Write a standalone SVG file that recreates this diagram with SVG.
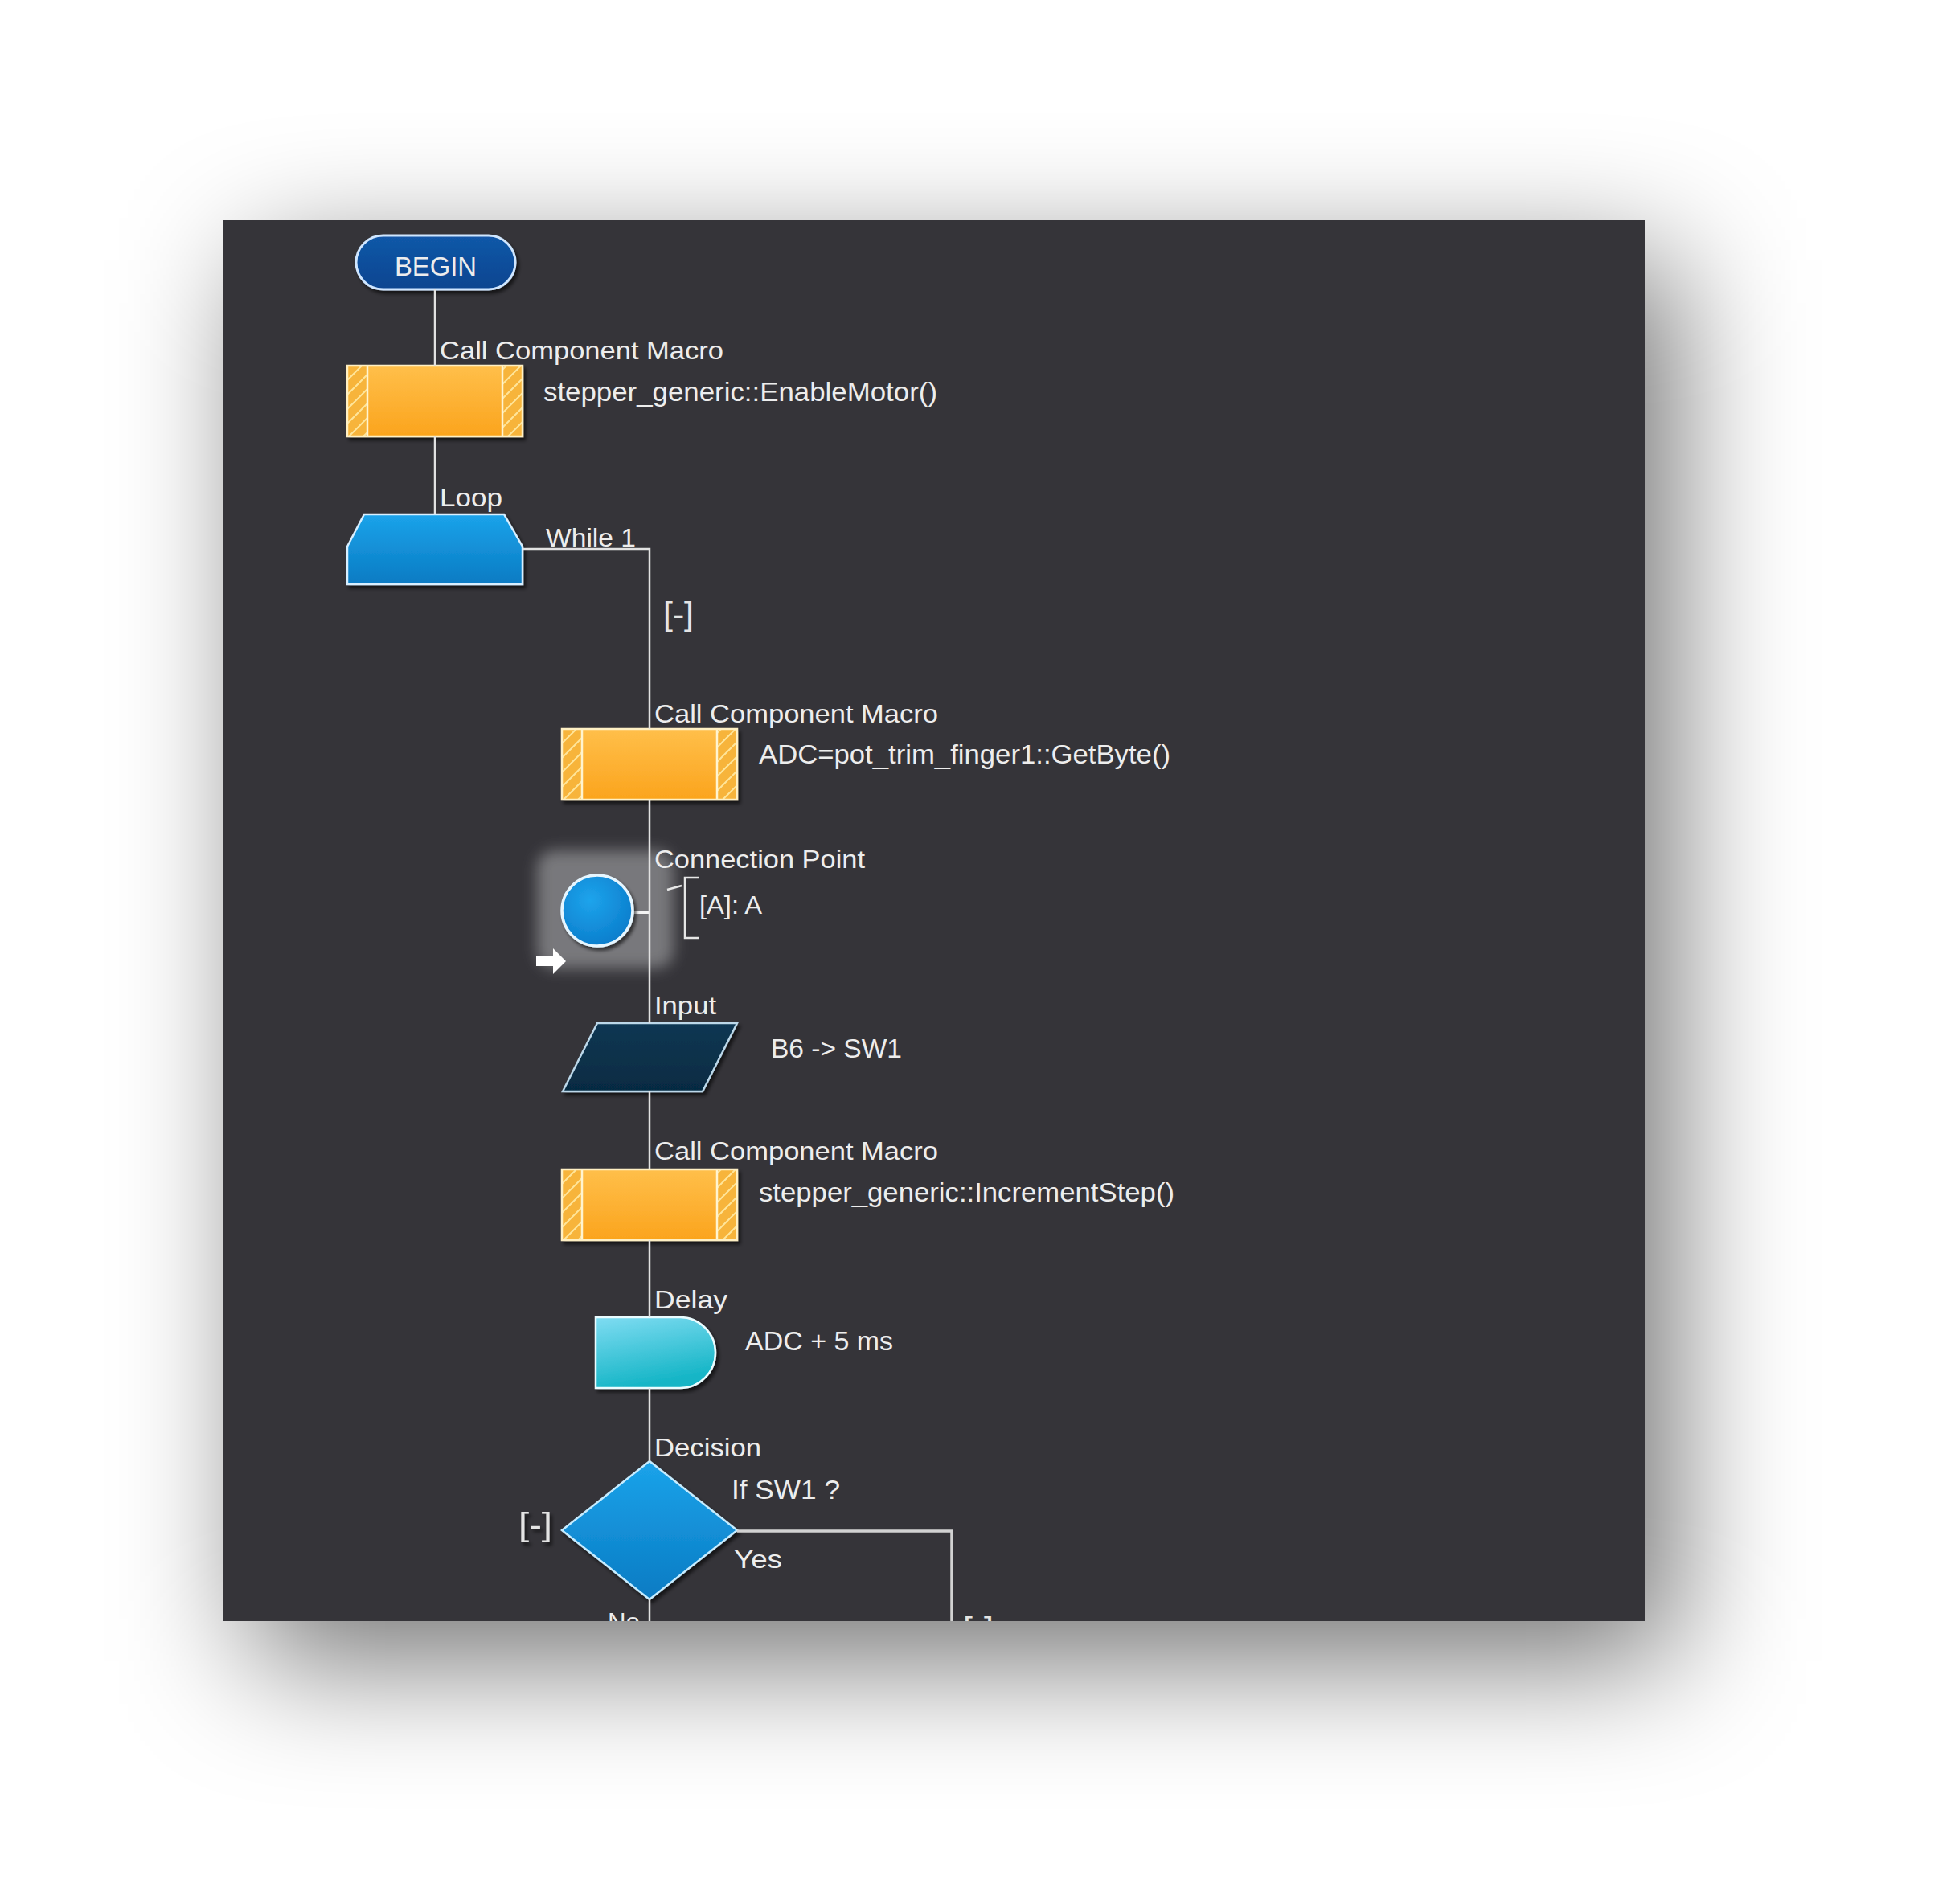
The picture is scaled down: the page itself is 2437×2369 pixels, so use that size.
<svg xmlns="http://www.w3.org/2000/svg" xmlns:xlink="http://www.w3.org/1999/xlink" width="2437" height="2369" viewBox="0 0 2437 2369">
<style>
.lbl{font-family:"Liberation Sans",Arial,sans-serif;font-size:32px;fill:#ededed}
.txt{font-family:"Liberation Sans",Arial,sans-serif;font-size:34px;fill:#ededed}
.brk{font-family:"Liberation Sans",Arial,sans-serif;font-size:40px;fill:#e4e4e4}
.con{fill:none;stroke:#e2e2e2;stroke-width:2.5}
.yes{fill:none;stroke:#d2d2d2;stroke-width:3.5}
</style>
<defs>
  <filter id="bigshadow" filterUnits="userSpaceOnUse" x="0" y="0" width="2437" height="2369"><feGaussianBlur stdDeviation="80"/></filter>
  <filter id="ns" x="-20%" y="-20%" width="150%" height="150%"><feDropShadow dx="3" dy="4" stdDeviation="2" flood-color="#000" flood-opacity="0.6"/></filter>
  <filter id="glow" x="-30%" y="-30%" width="160%" height="160%"><feGaussianBlur stdDeviation="9"/></filter>
  <linearGradient id="gOrange" x1="0" y1="0" x2="0" y2="1"><stop offset="0" stop-color="#ffbf4a"/><stop offset="1" stop-color="#fba41d"/></linearGradient>
  <linearGradient id="gBlue" x1="0" y1="0" x2="0" y2="1"><stop offset="0" stop-color="#1ba3ea"/><stop offset="1" stop-color="#0a7bc3"/></linearGradient>
  <linearGradient id="gCyan" x1="0" y1="0" x2="0.3" y2="1"><stop offset="0" stop-color="#7fdcf2"/><stop offset="1" stop-color="#14b5c6"/></linearGradient>
  <linearGradient id="gNavy" x1="0" y1="0" x2="0" y2="1"><stop offset="0" stop-color="#0d3753"/><stop offset="1" stop-color="#062b42"/></linearGradient>
  <linearGradient id="gBegin" x1="0" y1="0" x2="0" y2="1"><stop offset="0" stop-color="#1258a8"/><stop offset="1" stop-color="#0a4590"/></linearGradient>
  <radialGradient id="gCircle" cx="0.4" cy="0.35" r="0.7"><stop offset="0" stop-color="#1ea4ec"/><stop offset="1" stop-color="#0a7ccb"/></radialGradient>
  <pattern id="hatch" patternUnits="userSpaceOnUse" width="18" height="18">
    <rect width="18" height="18" fill="#f7b43a"/>
    <path d="M-2,2 L2,-2 M0,18 L18,0 M16,20 L20,16" stroke="#ffe59a" stroke-width="2"/>
  </pattern>
  <clipPath id="panelClip"><rect x="278" y="274" width="1769" height="1743"/></clipPath>
  <g id="macro">
    <rect x="0" y="0" width="218" height="88" fill="url(#gOrange)"/>
    <rect x="0" y="0" width="25" height="88" fill="url(#hatch)"/>
    <rect x="193" y="0" width="25" height="88" fill="url(#hatch)"/>
    <path d="M25,0 V88 M193,0 V88" stroke="#fff4d0" stroke-width="2.5"/>
    <rect x="0" y="0" width="218" height="88" fill="none" stroke="#fff0c4" stroke-width="2.5"/>
  </g>
</defs>

<rect x="313" y="324" width="1769" height="1743" fill="#000" fill-opacity="0.55" filter="url(#bigshadow)"/>
<rect x="278" y="274" width="1769" height="1743" fill="#353439"/>

<g clip-path="url(#panelClip)">
  <g id="begin">
    <rect x="443" y="293" width="198" height="67" rx="33.5" fill="url(#gBegin)" stroke="#cfe6ff" stroke-width="3" filter="url(#ns)"/>
    <text class="txt" x="542" y="343" text-anchor="middle" textLength="102" lengthAdjust="spacingAndGlyphs">BEGIN</text>
  </g>

  <g id="macro1">
    <use xlink:href="#macro" href="#macro" x="432" y="455" filter="url(#ns)"/>
    <text class="lbl" x="547" y="447" textLength="353" lengthAdjust="spacingAndGlyphs">Call Component Macro</text>
    <text class="txt" x="676" y="499" textLength="490" lengthAdjust="spacingAndGlyphs">stepper_generic::EnableMotor()</text>
  </g>

  <g id="loop">
    <polygon points="453,640 627,640 650,680 650,727 432,727 432,680" fill="url(#gBlue)" stroke="#d8efff" stroke-width="2.5" filter="url(#ns)"/>
    <text class="lbl" x="547" y="630" textLength="78" lengthAdjust="spacingAndGlyphs">Loop</text>
    <text class="lbl" x="679" y="680" textLength="112" lengthAdjust="spacingAndGlyphs">While 1</text>
    <text class="brk" x="825" y="778" textLength="38" lengthAdjust="spacingAndGlyphs">[-]</text>
  </g>

  <g id="macro2">
    <use xlink:href="#macro" href="#macro" x="699" y="907" filter="url(#ns)"/>
    <text class="lbl" x="814" y="899" textLength="353" lengthAdjust="spacingAndGlyphs">Call Component Macro</text>
    <text class="txt" x="944" y="950" textLength="512" lengthAdjust="spacingAndGlyphs">ADC=pot_trim_finger1::GetByte()</text>
  </g>

  <g id="connection-point">
    <rect x="668" y="1058" width="170" height="147" rx="22" fill="#78787c" filter="url(#glow)"/>
    <line x1="786" y1="1135" x2="808" y2="1135" stroke="#f4f4f4" stroke-width="4"/>
    <circle cx="743" cy="1133" r="44" fill="url(#gCircle)" stroke="#e6f6ff" stroke-width="3.5" filter="url(#ns)"/>
    <path d="M667,1190 H688 V1180 L704,1196 L688,1212 V1202 H667 Z" fill="#ffffff"/>
    <text class="lbl" x="814" y="1080" textLength="262" lengthAdjust="spacingAndGlyphs">Connection Point</text>
    <path d="M830,1107 L848,1102 M869,1092 H852 V1167 H870" fill="none" stroke="#e6e6e6" stroke-width="2.5"/>
    <text class="lbl" x="870" y="1137" textLength="78" lengthAdjust="spacingAndGlyphs">[A]: A</text>
  </g>

  <g id="input">
    <polygon points="743,1273 917,1273 874,1358 700,1358" fill="url(#gNavy)" stroke="#bcd8ea" stroke-width="2.5" filter="url(#ns)"/>
    <text class="lbl" x="814" y="1262" textLength="77" lengthAdjust="spacingAndGlyphs">Input</text>
    <text class="txt" x="959" y="1316" textLength="163" lengthAdjust="spacingAndGlyphs">B6 -&gt; SW1</text>
  </g>

  <g id="macro3">
    <use xlink:href="#macro" href="#macro" x="699" y="1455" filter="url(#ns)"/>
    <text class="lbl" x="814" y="1443" textLength="353" lengthAdjust="spacingAndGlyphs">Call Component Macro</text>
    <text class="txt" x="944" y="1495" textLength="517" lengthAdjust="spacingAndGlyphs">stepper_generic::IncrementStep()</text>
  </g>

  <g id="delay">
    <path d="M741,1639 H846 A44,44 0 0 1 846,1727 H741 Z" fill="url(#gCyan)" stroke="#eafcff" stroke-width="2.5" filter="url(#ns)"/>
    <text class="lbl" x="814" y="1628" textLength="91" lengthAdjust="spacingAndGlyphs">Delay</text>
    <text class="txt" x="927" y="1680" textLength="184" lengthAdjust="spacingAndGlyphs">ADC + 5 ms</text>
  </g>

  <g id="decision">
    <polygon points="808,1818 917,1904 808,1990 699,1904" fill="url(#gBlue)" stroke="#c6ecff" stroke-width="2.5" filter="url(#ns)"/>
    <text class="lbl" x="814" y="1812" textLength="133" lengthAdjust="spacingAndGlyphs">Decision</text>
    <text class="txt" x="910" y="1865" textLength="135" lengthAdjust="spacingAndGlyphs">If SW1 ?</text>
    <text class="brk" x="645" y="1911" textLength="42" lengthAdjust="spacingAndGlyphs" filter="url(#ns)">[-]</text>
    <text class="lbl" x="913" y="1951" textLength="60" lengthAdjust="spacingAndGlyphs">Yes</text>
    <text class="lbl" x="756" y="2029" textLength="40" lengthAdjust="spacingAndGlyphs">No</text>
    <text class="brk" x="1198" y="2041" textLength="38" lengthAdjust="spacingAndGlyphs">[-]</text>
  </g>

  <g id="connectors">
    <path class="con" d="M541,360 V455"/>
    <path class="con" d="M541,543 V640"/>
    <path class="con" d="M650,683 H808 V907"/>
    <path class="con" d="M808,995 V1273"/>
    <path class="con" d="M808,1358 V1455"/>
    <path class="con" d="M808,1543 V1639"/>
    <path class="con" d="M808,1727 V1818"/>
    <path class="con" d="M808,1990 V2017"/>
    <path class="yes" d="M917,1905 H1184 V2017"/>
  </g>
</g>
</svg>
